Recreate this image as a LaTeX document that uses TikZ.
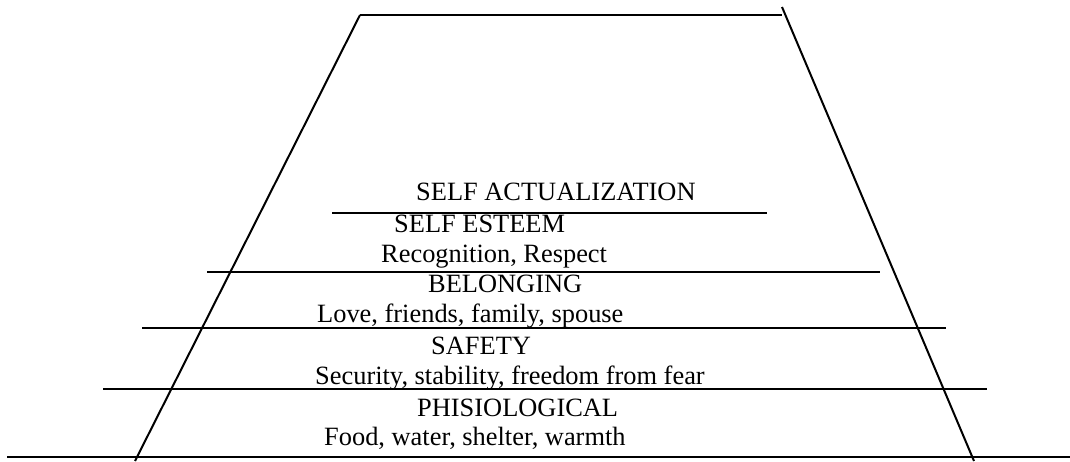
\documentclass[tikz,border=0pt]{standalone}
\usepackage{fontspec}
\setmainfont{Liberation Serif}
\begin{document}
\begin{tikzpicture}[x=1pt,y=-1pt,
  lbl/.style={anchor=base west,inner sep=0pt,font=\fontsize{26.4}{30}\selectfont},
  ln/.style={line width=2pt,black}]
\useasboundingbox (0,0) rectangle (1070,461);
% pyramid frame
\coordinate (tl) at (360,15);
\coordinate (tr) at (782,15);
\coordinate (rtop) at (782,7);
\draw[ln] (tl) -- (tr);
\draw[ln] (tl) -- (135,461);
\draw[ln] (rtop) -- (974,461);
% level lines
\draw[ln] (332,213) -- (767,213);
\draw[ln] (207,272) -- (880,272);
\draw[ln] (142,328) -- (946,328);
\draw[ln] (103,389) -- (987,389);
\draw[ln] (7,457) -- (1070,457);
% labels
\node[lbl] (sa) at (416,200) {SELF ACTUALIZATION};
\node[lbl] (se) at (394,232) {SELF ESTEEM};
\node[lbl] (rr) at (381,262) {Recognition, Respect};
\node[lbl] (be) at (428,292) {BELONGING};
\node[lbl] (lf) at (317,322) {Love, friends, family, spouse};
\node[lbl] (sf) at (431,354) {SAFETY};
\node[lbl] (ss) at (315,384) {Security, stability, freedom from fear};
\node[lbl] (ph) at (417,416) {PHISIOLOGICAL};
\node[lbl] (fw) at (324,445) {Food, water, shelter, warmth};
\end{tikzpicture}
\end{document}
